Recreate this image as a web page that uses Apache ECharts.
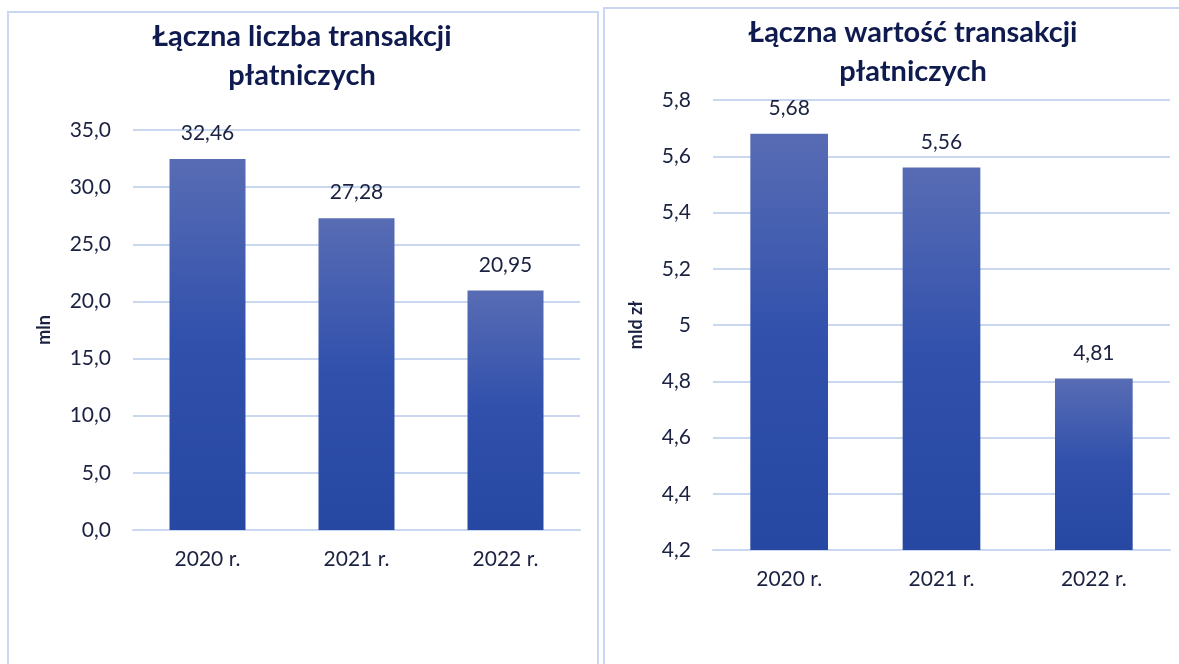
<!DOCTYPE html>
<html>
<head>
<meta charset="utf-8">
<script src="https://cdn.jsdelivr.net/npm/echarts@6/dist/echarts.min.js"></script>
<style>
  html, body { margin: 0; padding: 0; background: #fff; }
  #main { width: 1179px; height: 664px; }
</style>
</head>
<body>
<div id="main"></div>
<script>
// dane
const years = ['2020 r.', '2021 r.', '2022 r.'];
const countValues = [32.46, 27.28, 20.95];   // mln
const amountValues = [5.68, 5.56, 4.81];     // mld zł
const countTicks = { min: 0, max: 35, interval: 5 };
const amountTicks = { min: 4.2, max: 5.8, interval: 0.2 };

const FONT = 'Lato';
const navy = '#0f1a4f';
const textColor = '#1b2140';
const gridColor = '#c9d7f0';

const barColor = new echarts.graphic.LinearGradient(0, 0, 0, 1, [
  { offset: 0, color: '#586cb4' },
  { offset: 0.5, color: '#3050ac' },
  { offset: 1, color: '#2647a2' }
]);

function comma(v, digits) {
  return (digits == null ? String(+v.toFixed(2)) : v.toFixed(digits)).replace('.', ',');
}

let myChart = echarts.init(document.getElementById('main'));
myChart.setOption({
  backgroundColor: '#fff',
  textStyle: { fontFamily: FONT },
  graphic: [
    // ramki paneli
    { type: 'rect', shape: { x: 8, y: 12, width: 590, height: 670 },
      style: { fill: 'none', stroke: gridColor, lineWidth: 2 }, z: -1 },
    { type: 'rect', shape: { x: 604, y: 8, width: 600, height: 670 },
      style: { fill: 'none', stroke: gridColor, lineWidth: 2 }, z: -1 }
  ],
  title: [
    {
      text: 'Łączna liczba transakcji\npłatniczych',
      left: 297, top: 12, textAlign: 'center',
      textStyle: { fontFamily: FONT, fontSize: 29, fontWeight: 'bold', color: navy, lineHeight: 39 }
    },
    {
      text: 'Łączna wartość transakcji\npłatniczych',
      left: 908, top: 8, textAlign: 'center',
      textStyle: { fontFamily: FONT, fontSize: 29, fontWeight: 'bold', color: navy, lineHeight: 39 }
    }
  ],
  grid: [
    { left: 133, right: 599, top: 130, bottom: 134 },
    { left: 713, right: 9, top: 100, bottom: 114 }
  ],
  xAxis: [0, 1].map(i => ({
    type: 'category',
    gridIndex: i,
    data: years,
    axisTick: { show: false },
    axisLine: { show: true, lineStyle: { color: gridColor, width: 2 } },
    axisLabel: { color: textColor, fontSize: 21, margin: 19, fontFamily: FONT }
  })),
  yAxis: [
    {
      type: 'value', gridIndex: 0,
      min: countTicks.min, max: countTicks.max, interval: countTicks.interval,
      name: 'mln', nameLocation: 'center', nameGap: 80, nameRotate: 90,
      nameTextStyle: { fontSize: 18, fontWeight: 'bold', color: textColor, fontFamily: FONT },
      axisLine: { show: false }, axisTick: { show: false },
      axisLabel: { color: textColor, fontSize: 21, margin: 22, fontFamily: FONT,
        formatter: v => comma(v, 1) },
      splitLine: { lineStyle: { color: gridColor, width: 2 } }
    },
    {
      type: 'value', gridIndex: 1,
      min: amountTicks.min, max: amountTicks.max, interval: amountTicks.interval,
      name: 'mld zł', nameLocation: 'center', nameGap: 68, nameRotate: 90,
      nameTextStyle: { fontSize: 18, fontWeight: 'bold', color: textColor, fontFamily: FONT },
      axisLine: { show: false }, axisTick: { show: false },
      axisLabel: { color: textColor, fontSize: 21, margin: 22, fontFamily: FONT,
        formatter: v => comma(v) },
      splitLine: { lineStyle: { color: gridColor, width: 2 } }
    }
  ],
  series: [
    {
      type: 'bar', xAxisIndex: 0, yAxisIndex: 0,
      data: countValues, barWidth: '51%',
      itemStyle: { color: barColor },
      label: { show: true, position: 'top', distance: 15, fontSize: 21, color: textColor,
        fontFamily: FONT, formatter: p => comma(p.value, 2) }
    },
    {
      type: 'bar', xAxisIndex: 1, yAxisIndex: 1,
      data: amountValues, barWidth: '51%',
      itemStyle: { color: barColor },
      label: { show: true, position: 'top', distance: 15, fontSize: 21, color: textColor,
        fontFamily: FONT, formatter: p => comma(p.value, 2) }
    }
  ]
});
</script>
</body>
</html>
